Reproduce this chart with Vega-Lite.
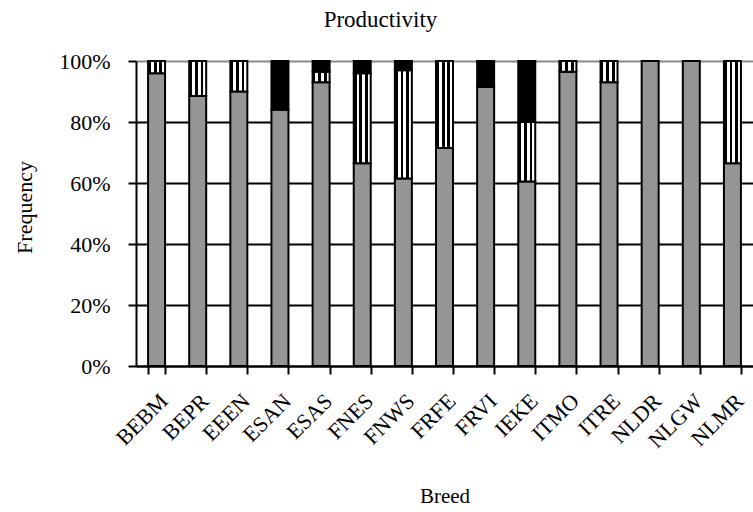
{
  "$schema": "https://vega.github.io/schema/vega-lite/v6.json",
  "autosize": {"type": "none"},
  "width": 617,
  "height": 305,
  "padding": {"left": 136, "top": 61, "right": 0, "bottom": 146},
  "background": "white",
  "config": {
    "view": {"stroke": null},
    "font": "Liberation Serif"
  },
  "title": {
    "text": "Productivity",
    "font": "Liberation Serif",
    "fontSize": 23,
    "fontWeight": "normal",
    "color": "black",
    "anchor": "middle",
    "offset": 18,
    "dx": -64
  },
  "data": {
    "values": [
      {"breed": "BEBM", "level": "A", "value": 96},
      {"breed": "BEBM", "level": "B", "value": 4},
      {"breed": "BEPR", "level": "A", "value": 88.5},
      {"breed": "BEPR", "level": "B", "value": 11.5},
      {"breed": "EEEN", "level": "A", "value": 90},
      {"breed": "EEEN", "level": "B", "value": 10},
      {"breed": "ESAN", "level": "A", "value": 84},
      {"breed": "ESAN", "level": "C", "value": 16},
      {"breed": "ESAS", "level": "A", "value": 93},
      {"breed": "ESAS", "level": "B", "value": 3.5},
      {"breed": "ESAS", "level": "C", "value": 3.5},
      {"breed": "FNES", "level": "A", "value": 66.5},
      {"breed": "FNES", "level": "B", "value": 29.5},
      {"breed": "FNES", "level": "C", "value": 4},
      {"breed": "FNWS", "level": "A", "value": 61.5},
      {"breed": "FNWS", "level": "B", "value": 35.5},
      {"breed": "FNWS", "level": "C", "value": 3},
      {"breed": "FRFE", "level": "A", "value": 71.5},
      {"breed": "FRFE", "level": "B", "value": 28.5},
      {"breed": "FRVI", "level": "A", "value": 91.5},
      {"breed": "FRVI", "level": "C", "value": 8.5},
      {"breed": "IEKE", "level": "A", "value": 60.5},
      {"breed": "IEKE", "level": "B", "value": 19.5},
      {"breed": "IEKE", "level": "C", "value": 20},
      {"breed": "ITMO", "level": "A", "value": 96.5},
      {"breed": "ITMO", "level": "B", "value": 3.5},
      {"breed": "ITRE", "level": "A", "value": 93},
      {"breed": "ITRE", "level": "B", "value": 7},
      {"breed": "NLDR", "level": "A", "value": 100},
      {"breed": "NLGW", "level": "A", "value": 100},
      {"breed": "NLMR", "level": "A", "value": 66.5},
      {"breed": "NLMR", "level": "B", "value": 33.5}
    ]
  },
  "transform": [
    {"stack": "value", "groupby": ["breed"], "sort": [{"field": "level", "order": "ascending"}], "as": ["y0", "y1"]}
  ],
  "encoding": {
    "x": {
      "field": "breed",
      "type": "nominal",
      "sort": null,
      "title": "Breed",
      "scale": {"paddingInner": 0.587, "paddingOuter": 0.2935},
      "axis": {
        "labelAngle": -45,
        "labelFont": "Liberation Serif",
        "labelFontSize": 22,
        "labelColor": "black",
        "labelPadding": 16,
        "labelDx": -4,
        "tickBand": "extent",
        "tickSize": 8,
        "tickWidth": 2,
        "tickColor": "black",
        "domainColor": "black",
        "domainWidth": 2,
        "grid": false,
        "titleFont": "Liberation Serif",
        "titleFontSize": 21,
        "titleFontWeight": "normal",
        "titleColor": "black",
        "titleBaseline": "alphabetic",
        "titleY": 136
      }
    },
    "y": {
      "field": "y0",
      "type": "quantitative",
      "title": "Frequency",
      "scale": {"domain": [0, 100]},
      "axis": {
        "values": [0, 20, 40, 60, 80, 100],
        "labelExpr": "datum.value + '%'",
        "labelFont": "Liberation Serif",
        "labelFontSize": 22,
        "labelColor": "black",
        "labelPadding": 18,
        "tickSize": 8,
        "tickWidth": 2,
        "tickColor": "black",
        "domainColor": "black",
        "domainWidth": 2,
        "grid": true,
        "gridColor": {"condition": {"test": "datum.value === 100", "value": "#8a8a8a"}, "value": "black"},
        "gridWidth": 2,
        "gridOpacity": 1,
        "titleFont": "Liberation Serif",
        "titleFontSize": 22,
        "titleFontWeight": "normal",
        "titleColor": "black",
        "titleAngle": -90,
        "titleBaseline": "middle",
        "titleX": -112,
        "titleY": 146
      }
    },
    "y2": {"field": "y1"}
  },
  "layer": [
    {
      "transform": [{"filter": "datum.level === 'A'"}],
      "mark": {"type": "bar", "fill": "#959595", "stroke": "black", "strokeWidth": 2}
    },
    {
      "transform": [{"filter": "datum.level === 'B'"}],
      "mark": {
        "type": "bar",
        "stroke": "black",
        "strokeWidth": 2,
        "fill": {
          "gradient": "linear", "x1": 0, "y1": 0, "x2": 1, "y2": 0,
          "stops": [
            {"offset": 0, "color": "#000000"},
            {"offset": 0.1667, "color": "#000000"},
            {"offset": 0.1667, "color": "#ffffff"},
            {"offset": 0.3333, "color": "#ffffff"},
            {"offset": 0.3333, "color": "#000000"},
            {"offset": 0.5, "color": "#000000"},
            {"offset": 0.5, "color": "#ffffff"},
            {"offset": 0.6667, "color": "#ffffff"},
            {"offset": 0.6667, "color": "#000000"},
            {"offset": 0.8333, "color": "#000000"},
            {"offset": 0.8333, "color": "#ffffff"},
            {"offset": 1, "color": "#ffffff"}
          ]
        }
      }
    },
    {
      "transform": [{"filter": "datum.level === 'C'"}],
      "mark": {"type": "bar", "fill": "black", "stroke": "black", "strokeWidth": 2}
    }
  ]
}
